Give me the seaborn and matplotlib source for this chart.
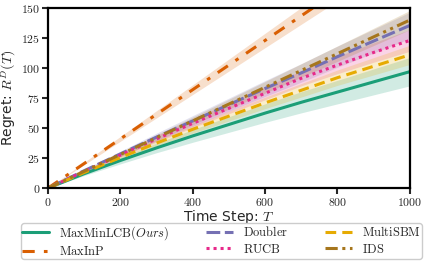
import matplotlib
matplotlib.use("Agg")
import matplotlib.pyplot as plt
import numpy as np
import pandas as pd
import seaborn as sns
from matplotlib.ticker import FuncFormatter

steps = [0, 100, 200, 300, 400, 500, 600, 700, 800, 900, 1000]

maxminlcb = [0, 12, 23, 33.5, 43.5, 53, 62.5, 71.5, 80, 88.5, 97]
maxinp = [0, 20.5, 41, 61.5, 82, 102.5, 123, 143.5, 164, 184.5, 205]
doubler = [0, 14.5, 28.5, 42.5, 56, 69.5, 83, 96, 109.5, 122.5, 135.5]
rucb = [0, 14, 27.5, 41, 54, 66.5, 79, 91.5, 102.5, 113, 123]
multisbm = [0, 13, 25.5, 37.5, 49, 60, 71, 81.5, 92, 101.5, 111]
ids = [0, 14, 28, 42, 56, 70, 84, 98, 112, 126, 140]

# half-width of the shaded bands
maxminlcb_sd = [0, 1.5, 2.8, 4, 5.3, 6.5, 7.7, 8.8, 9.8, 10.8, 11.8]
maxinp_sd = [0, 1, 2, 3, 4, 5, 6, 7, 8, 9, 10]
doubler_sd = [0, 1.1, 2.2, 3.3, 4.4, 5.5, 6.6, 7.7, 8.8, 9.9, 11]
rucb_sd = [0, 0.9, 1.8, 2.7, 3.6, 4.5, 5.4, 6.3, 7.2, 8.1, 9]
multisbm_sd = [0, 0.8, 1.6, 2.4, 3.2, 4, 4.8, 5.6, 6.4, 7.2, 8]
ids_sd = [0, 0.8, 1.6, 2.4, 3.2, 4, 4.8, 5.6, 6.4, 7.2, 8]

labels = [r"$\mathrm{MaxMinLCB}(Ours)$", r"$\mathrm{MaxInP}$", r"$\mathrm{Doubler}$",
          r"$\mathrm{RUCB}$", r"$\mathrm{MultiSBM}$", r"$\mathrm{IDS}$"]

sns.set_style("ticks")
plt.rcParams["font.family"] = ["DejaVu Sans"]
plt.rcParams["mathtext.fontset"] = "cm"

palette = sns.color_palette("Dark2", 8)
colors = [palette[0], palette[1], palette[2], palette[3], palette[5], palette[6]]
styles = [
    "-",
    (0, (4, 3, 1.2, 3)),
    (0, (4.5, 1.5)),
    (0, (1, 1.3)),
    (0, (3.5, 2)),
    (0, (4, 1.5, 1, 1.5, 1, 1.5)),
]

series = [maxminlcb, maxinp, doubler, rucb, multisbm, ids]
spreads = [maxminlcb_sd, maxinp_sd, doubler_sd, rucb_sd, multisbm_sd, ids_sd]

fig = plt.figure(figsize=(4.36, 2.68), dpi=100)
ax = fig.add_axes([0.110, 0.298, 0.830, 0.672])

for vals, sd, lab, col, ls in zip(series, spreads, labels, colors, styles):
    df = pd.DataFrame({"T": steps, "regret": vals})
    lo = np.array(vals) - np.array(sd)
    hi = np.array(vals) + np.array(sd)
    ax.fill_between(steps, lo, hi, color=col, alpha=0.2, linewidth=0)
    sns.lineplot(data=df, x="T", y="regret", ax=ax, color=col, label=lab,
                 linewidth=2.2, linestyle=ls)

ax.set_xlim(0, 1000)
ax.set_ylim(0, 150)
ax.set_xticks([0, 200, 400, 600, 800, 1000])
ax.set_yticks([0, 25, 50, 75, 100, 125, 150])
fmt = FuncFormatter(lambda v, _: f"${v:g}$")
ax.xaxis.set_major_formatter(fmt)
ax.yaxis.set_major_formatter(fmt)
ax.tick_params(labelsize=8.5, width=1.5, length=4, pad=1.5)
for s in ax.spines.values():
    s.set_linewidth(1.6)
    s.set_color("black")

ax.set_xlabel(r"Time Step: $T$", fontsize=10, labelpad=-0.5)
ax.set_ylabel(r"Regret: $R^D(T)$", fontsize=10, labelpad=2)

handles, labs = ax.get_legend_handles_labels()
ax.get_legend().remove()
fig.legend(handles, labs, ncol=3, loc="lower center", bbox_to_anchor=(0.508, 0.012),
           fontsize=9, handlelength=2.2, columnspacing=2.9, labelspacing=0.25,
           borderpad=0.05, handletextpad=0.8, framealpha=1)

fig.savefig("out.png", dpi=100)
